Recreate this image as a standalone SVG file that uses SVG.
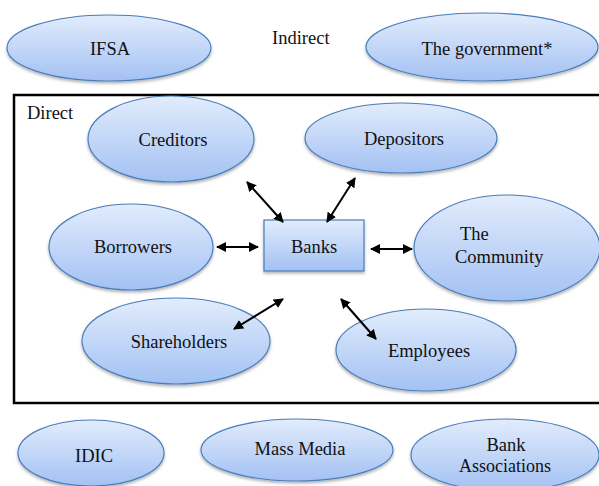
<svg xmlns="http://www.w3.org/2000/svg" width="599" height="486" viewBox="0 0 599 486">
<style>
.n{fill:url(#g);stroke:#4a7ebb;stroke-width:1.2;filter:url(#sh)}
.t{font-family:'Liberation Serif','DejaVu Serif',serif;font-size:18.5px;fill:#111;text-anchor:middle}
.l{font-family:'Liberation Serif','DejaVu Serif',serif;font-size:18.5px;fill:#111}
.c{stroke:#000;stroke-width:2;fill:none;marker-start:url(#a);marker-end:url(#a)}
</style>
<defs>
<linearGradient id="g" x1="0" y1="0" x2="0" y2="1">
<stop offset="0" stop-color="#e2ecfc"/>
<stop offset="1" stop-color="#a3c1f3"/>
</linearGradient>
<filter id="sh" x="-10%" y="-10%" width="120%" height="130%">
<feDropShadow dx="0" dy="2" stdDeviation="1.5" flood-color="#000" flood-opacity="0.3"/>
</filter>
<marker id="a" viewBox="0 0 10 10" refX="9" refY="5" markerWidth="5" markerHeight="5" orient="auto-start-reverse" markerUnits="strokeWidth">
<path d="M0,0 L10,5 L0,10 z" fill="#000"/>
</marker>
</defs>
<rect width="599" height="486" fill="#fff"/>
<rect x="14" y="95" width="590" height="308" fill="none" stroke="#000" stroke-width="2.5"/>
<text class="l" x="272" y="44">Indirect</text>
<text class="l" x="27" y="119">Direct</text>
<g id="ifsa"><ellipse class="n" cx="109" cy="48" rx="102" ry="33"/><text class="t" x="110" y="55">IFSA</text></g>
<g id="government"><ellipse class="n" cx="482" cy="47" rx="116" ry="34"/><text class="t" x="487" y="55">The government*</text></g>
<g id="creditors"><ellipse class="n" cx="171" cy="139" rx="83" ry="43"/><text class="t" x="173" y="146">Creditors</text></g>
<g id="depositors"><ellipse class="n" cx="401" cy="138" rx="96" ry="35"/><text class="t" x="404" y="145">Depositors</text></g>
<g id="borrowers"><ellipse class="n" cx="131" cy="247" rx="82" ry="43"/><text class="t" x="133" y="253">Borrowers</text></g>
<g id="banks"><rect class="n" x="264" y="220" width="100" height="51"/><text class="t" x="314" y="253">Banks</text></g>
<g id="community"><ellipse class="n" cx="507" cy="248" rx="93" ry="53"/><text class="l" x="460" y="240">The</text><text class="l" x="455" y="263">Community</text></g>
<g id="shareholders"><ellipse class="n" cx="176" cy="341" rx="94" ry="43"/><text class="t" x="179" y="348">Shareholders</text></g>
<g id="employees"><ellipse class="n" cx="426" cy="350" rx="90" ry="41"/><text class="t" x="429" y="357">Employees</text></g>
<g id="idic"><ellipse class="n" cx="91" cy="453" rx="73" ry="33"/><text class="t" x="94" y="462">IDIC</text></g>
<g id="massmedia"><ellipse class="n" cx="297" cy="450" rx="96" ry="31"/><text class="t" x="300" y="455">Mass Media</text></g>
<g id="bankassociations"><ellipse class="n" cx="505" cy="455" rx="94" ry="36"/><text class="t" x="506" y="451">Bank</text><text class="l" x="459" y="472" textLength="92" lengthAdjust="spacingAndGlyphs">Associations</text></g>
<g id="connectors">
<line class="c" x1="247" y1="182" x2="283" y2="222"/>
<line class="c" x1="355" y1="178" x2="327" y2="222"/>
<line class="c" x1="217" y1="247" x2="258" y2="247"/>
<line class="c" x1="371" y1="249" x2="412" y2="249"/>
<line class="c" x1="234" y1="329" x2="283" y2="299"/>
<line class="c" x1="341" y1="299" x2="376" y2="339"/>
</g>
</svg>
